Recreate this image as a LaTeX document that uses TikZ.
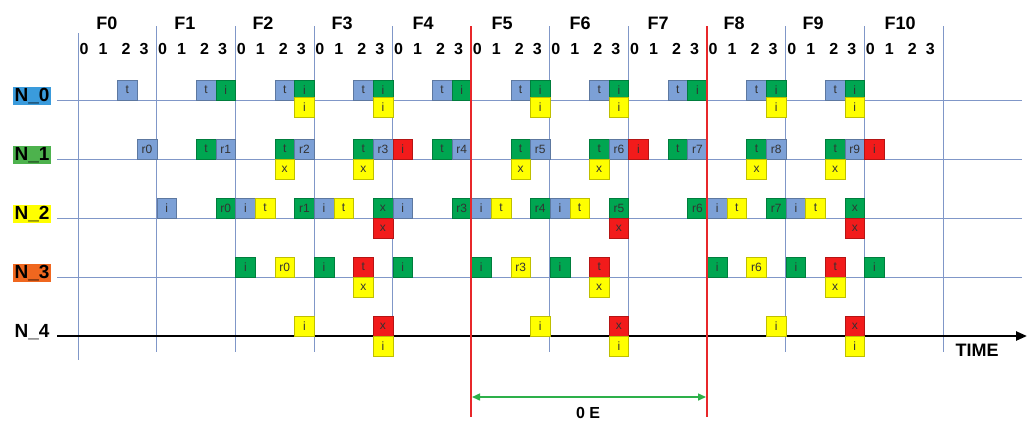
\documentclass[tikz,border=0pt]{standalone}
\usepackage{fontspec}
\setmainfont{Liberation Sans}
\usetikzlibrary{arrows.meta}
\definecolor{gridblue}{HTML}{8097C8}
\definecolor{cblue}{HTML}{7CA0D6}
\definecolor{cgreen}{HTML}{00A651}
\definecolor{cyellow}{HTML}{FFFF00}
\definecolor{cred}{HTML}{F21B1B}
\definecolor{lblue}{HTML}{3A9BDC}
\definecolor{lgreen}{HTML}{4DB24D}
\definecolor{lorange}{HTML}{F0671F}
\definecolor{redline}{HTML}{E8272A}
\definecolor{arrgreen}{HTML}{2DB04A}
\tikzset{
  cell/.style={draw=#1!75!black, fill=#1, line width=0.5pt, minimum width=19.66pt,
    minimum height=19.5pt, inner sep=0pt, font=\fontsize{12}{12}\selectfont, text=black!80},
  flabel/.style={font=\fontsize{18}{18}\selectfont\bfseries, inner sep=0pt},
  dlabel/.style={font=\fontsize{16}{16}\selectfont\bfseries, inner sep=0pt},
  nlabel/.style={font=\fontsize{19}{19}\selectfont\bfseries, inner sep=1.5pt, anchor=base},
  gridline/.style={gridblue, line width=0.8pt},
  redmark/.style={redline, line width=1.6pt},
}
\newcommand\cellup[5]{\node[cell=#2,anchor=south west] (#1) at ({78+#3*19.66},#4) {#5};}
\newcommand\celldn[5]{\node[cell=#2,anchor=north west] (#1) at ({78+#3*19.66},#4) {#5};}
\begin{document}
\begin{tikzpicture}[x=1pt,y=-1pt]
\useasboundingbox (0,0) rectangle (1030,421);
% frame lines
\draw[gridline] (78,33) -- (78,360);
\foreach \k in {1,2,3,4,6,7,9,10,11}
  \draw[gridline] ({78+\k*78.64},26) -- ({78+\k*78.64},352);
% row lines
\foreach \yy in {100,159,218,277}
  \draw[gridline] (57,\yy) -- (1022,\yy);
\coordinate (t0) at (57,336);
\coordinate (t1) at (1027,336);
\draw[line width=2.4pt, -{Triangle[length=11pt,width=9pt]}] (t0) -- (t1);
% frame labels
\foreach \k/\cx in {0/107,1/185,2/263,3/342,4/423,5/502,6/580,7/658,8/734,9/813,10/900}
  \node[flabel, anchor=base] (f\k) at (\cx,29) {F\k};
\foreach \k in {0,...,10}
  \foreach \j/\dx in {0/6,1/25,2/48,3/66}
    \node[dlabel, anchor=base] (d\k-\j) at ({78+\k*78.64+\dx},54) {\j};
% row labels
\node[nlabel, fill=lblue] (n0) at (32,101.5) {N\_0};
\node[nlabel, fill=lgreen] (n1) at (32,160.5) {N\_1};
\node[nlabel, fill=cyellow] (n2) at (32,219.5) {N\_2};
\node[nlabel, fill=lorange] (n3) at (32,278.5) {N\_3};
\node[nlabel] (n4) at (32,337.5) {N\_4};
% N_0
\cellup{a2}{cblue}{2}{100}{t}
\cellup{a6}{cblue}{6}{100}{t} \cellup{a7}{cgreen}{7}{100}{i}
\cellup{a10}{cblue}{10}{100}{t} \cellup{a11}{cgreen}{11}{100}{i} \celldn{a11b}{cyellow}{11}{97}{i}
\cellup{a14}{cblue}{14}{100}{t} \cellup{a15}{cgreen}{15}{100}{i} \celldn{a15b}{cyellow}{15}{97}{i}
\cellup{a18}{cblue}{18}{100}{t} \cellup{a19}{cgreen}{19}{100}{i}
\cellup{a22}{cblue}{22}{100}{t} \cellup{a23}{cgreen}{23}{100}{i} \celldn{a23b}{cyellow}{23}{97}{i}
\cellup{a26}{cblue}{26}{100}{t} \cellup{a27}{cgreen}{27}{100}{i} \celldn{a27b}{cyellow}{27}{97}{i}
\cellup{a30}{cblue}{30}{100}{t} \cellup{a31}{cgreen}{31}{100}{i}
\cellup{a34}{cblue}{34}{100}{t} \cellup{a35}{cgreen}{35}{100}{i} \celldn{a35b}{cyellow}{35}{97}{i}
\cellup{a38}{cblue}{38}{100}{t} \cellup{a39}{cgreen}{39}{100}{i} \celldn{a39b}{cyellow}{39}{97}{i}
% N_1
\cellup{b3}{cblue}{3}{159}{r0}
\cellup{b6}{cgreen}{6}{159}{t} \cellup{b7}{cblue}{7}{159}{r1}
\cellup{b10}{cgreen}{10}{159}{t} \cellup{b11}{cblue}{11}{159}{r2} \celldn{b10b}{cyellow}{10}{159}{x}
\cellup{b14}{cgreen}{14}{159}{t} \cellup{b15}{cblue}{15}{159}{r3} \celldn{b14b}{cyellow}{14}{159}{x} \cellup{b16}{cred}{16}{159}{i}
\cellup{b18}{cgreen}{18}{159}{t} \cellup{b19}{cblue}{19}{159}{r4}
\cellup{b22}{cgreen}{22}{159}{t} \cellup{b23}{cblue}{23}{159}{r5} \celldn{b22b}{cyellow}{22}{159}{x}
\cellup{b26}{cgreen}{26}{159}{t} \cellup{b27}{cblue}{27}{159}{r6} \celldn{b26b}{cyellow}{26}{159}{x} \cellup{b28}{cred}{28}{159}{i}
\cellup{b30}{cgreen}{30}{159}{t} \cellup{b31}{cblue}{31}{159}{r7}
\cellup{b34}{cgreen}{34}{159}{t} \cellup{b35}{cblue}{35}{159}{r8} \celldn{b34b}{cyellow}{34}{159}{x}
\cellup{b38}{cgreen}{38}{159}{t} \cellup{b39}{cblue}{39}{159}{r9} \celldn{b38b}{cyellow}{38}{159}{x} \cellup{b40}{cred}{40}{159}{i}
% N_2
\cellup{c4}{cblue}{4}{218}{i}
\cellup{c7}{cgreen}{7}{218}{r0} \cellup{c8}{cblue}{8}{218}{i} \cellup{c9}{cyellow}{9}{218}{t}
\cellup{c11}{cgreen}{11}{218}{r1} \cellup{c12}{cblue}{12}{218}{i} \cellup{c13}{cyellow}{13}{218}{t}
\cellup{c15}{cgreen}{15}{218}{x} \celldn{c15b}{cred}{15}{218}{x} \cellup{c16}{cblue}{16}{218}{i}
\cellup{c19}{cgreen}{19}{218}{r3} \cellup{c20}{cblue}{20}{218}{i} \cellup{c21}{cyellow}{21}{218}{t}
\cellup{c23}{cgreen}{23}{218}{r4} \cellup{c24}{cblue}{24}{218}{i} \cellup{c25}{cyellow}{25}{218}{t}
\cellup{c27}{cgreen}{27}{218}{r5} \celldn{c27b}{cred}{27}{218}{x}
\cellup{c31}{cgreen}{31}{218}{r6} \cellup{c32}{cblue}{32}{218}{i} \cellup{c33}{cyellow}{33}{218}{t}
\cellup{c35}{cgreen}{35}{218}{r7} \cellup{c36}{cblue}{36}{218}{i} \cellup{c37}{cyellow}{37}{218}{t}
\cellup{c39}{cgreen}{39}{218}{x} \celldn{c39b}{cred}{39}{218}{x}
% N_3
\cellup{e8}{cgreen}{8}{277}{i} \cellup{e10}{cyellow}{10}{277}{r0}
\cellup{e12}{cgreen}{12}{277}{i} \cellup{e14}{cred}{14}{277}{t} \celldn{e14b}{cyellow}{14}{277}{x}
\cellup{e16}{cgreen}{16}{277}{i}
\cellup{e20}{cgreen}{20}{277}{i} \cellup{e22}{cyellow}{22}{277}{r3}
\cellup{e24}{cgreen}{24}{277}{i} \cellup{e26}{cred}{26}{277}{t} \celldn{e26b}{cyellow}{26}{277}{x}
\cellup{e32}{cgreen}{32}{277}{i} \cellup{e34}{cyellow}{34}{277}{r6}
\cellup{e36}{cgreen}{36}{277}{i} \cellup{e38}{cred}{38}{277}{t} \celldn{e38b}{cyellow}{38}{277}{x}
\cellup{e40}{cgreen}{40}{277}{i}
% N_4
\cellup{g11}{cyellow}{11}{336}{i}
\cellup{g15}{cred}{15}{336}{x} \celldn{g15b}{cyellow}{15}{336}{i}
\cellup{g23}{cyellow}{23}{336}{i}
\cellup{g27}{cred}{27}{336}{x} \celldn{g27b}{cyellow}{27}{336}{i}
\cellup{g35}{cyellow}{35}{336}{i}
\cellup{g39}{cred}{39}{336}{x} \celldn{g39b}{cyellow}{39}{336}{i}
% red epoch lines
\draw[redmark] (471.2,26) -- (471.2,417);
\draw[redmark] (707.1,26) -- (707.1,417);
\coordinate (ea) at (472,397);
\coordinate (eb) at (706,397);
\draw[arrgreen, line width=1.5pt, {Triangle[length=8pt,width=7pt]}-{Triangle[length=8pt,width=7pt]}] (ea) -- (eb);
\node[dlabel, anchor=base] (oe) at (588,418) {0 E};
\node[flabel, anchor=base, font=\fontsize{18}{18}\selectfont\bfseries] (time) at (977,356) {TIME};
\end{tikzpicture}
\end{document}
